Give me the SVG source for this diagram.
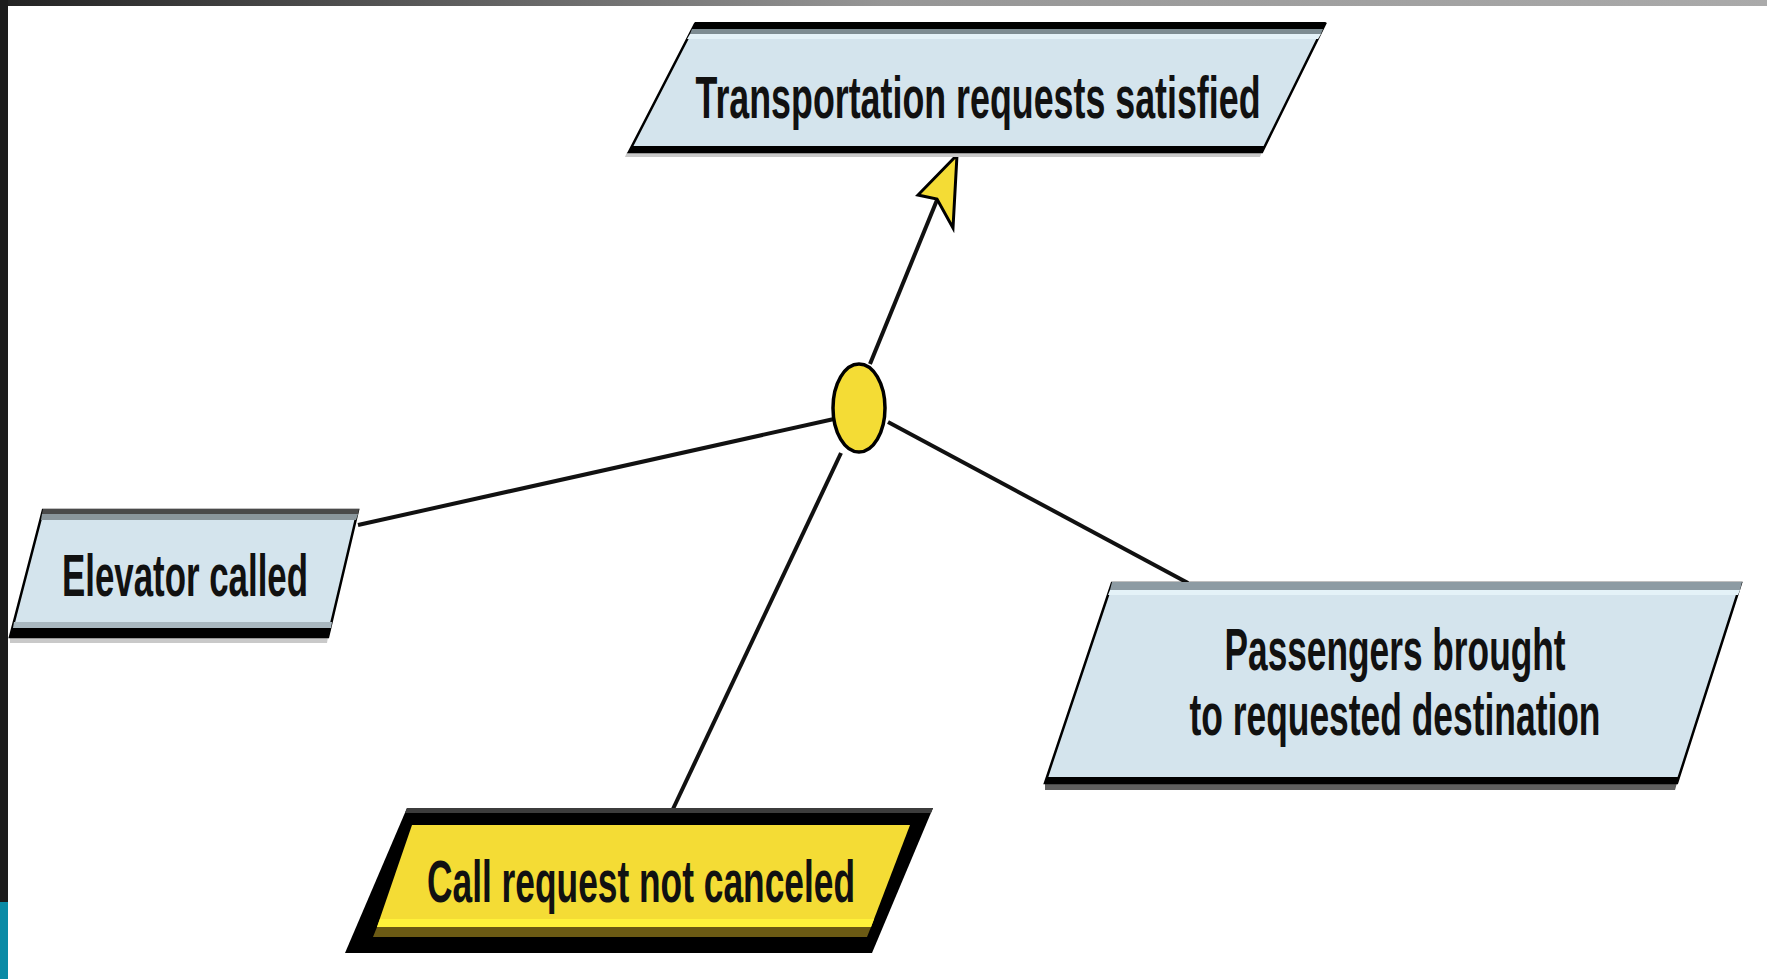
<svg xmlns="http://www.w3.org/2000/svg" width="1767" height="979" viewBox="0 0 1767 979">
<defs>
<linearGradient id="topbar" x1="0" y1="0" x2="1" y2="0">
<stop offset="0" stop-color="#222"/>
<stop offset="0.5" stop-color="#969696"/>
<stop offset="1" stop-color="#aaa"/>
</linearGradient>
<style>
.blue{fill:#d4e4ed;stroke:#000;stroke-width:2.5;stroke-linejoin:miter}
.yel{fill:#f4dc35}
.lbl{font-family:"Liberation Sans",Arial,sans-serif;font-weight:700;font-size:60px;fill:#111;text-anchor:middle}
.conn{stroke:#111;stroke-width:4;fill:none}
</style>
</defs>
<rect width="1767" height="979" fill="#fff"/>
<rect x="0" y="0" width="1767" height="6" fill="url(#topbar)"/>
<rect x="0" y="0" width="8" height="902" fill="#1c1c1c"/>
<rect x="0" y="902" width="8" height="77" fill="#0a8aa5"/>

<g id="connectors">
<line class="conn" x1="358" y1="525" x2="834" y2="419"/>
<line class="conn" x1="888" y1="422" x2="1188" y2="583"/>
<line class="conn" x1="841" y1="453" x2="673" y2="809"/>
<line class="conn" x1="870" y1="364" x2="937" y2="200"/>
<polygon points="957,155 918,195 937,199 953,228" fill="#f4dc35" stroke="#000" stroke-width="3" stroke-linejoin="miter"/>
</g>

<g id="node-transport">
<polygon points="627,152 1262,152 1260,157 625,157" fill="#c9c9c9"/>
<polygon class="blue" points="695,24 1325,24 1262,152 629,152"/>
<polygon points="695,22 1326,22 1323,29 692,29" fill="#000"/>
<polygon points="692,29 1323,29 1321,34 690,34" fill="#7d8c92"/>
<polygon points="690,34 1321,34 1318,39 687,39" fill="#e4f2f8"/>
<polygon points="632,146 1265,146 1262,153 629,153" fill="#000"/>
<text class="lbl" x="978" y="118" textLength="565" lengthAdjust="spacingAndGlyphs">Transportation requests satisfied</text>
</g>

<g id="node-goal-ellipse">
<ellipse cx="859" cy="408" rx="26" ry="44" fill="#f4dc35" stroke="#000" stroke-width="3.5"/>
</g>

<g id="node-elevator">
<polygon points="10,637 328,637 327,643 10,643" fill="#c9c9c9"/>
<polygon class="blue" points="43,510 358,510 328,637 10,637"/>
<polygon points="43,509 359,509 358,514 42,514" fill="#4a4a4a"/>
<polygon points="42,514 358,514 356,520 41,520" fill="#8a969c"/>
<polygon points="14,622 332,622 331,628 13,628" fill="#a9b8c0"/>
<polygon points="13,628 331,628 328,638 10,638" fill="#000"/>
<text class="lbl" x="185" y="596" textLength="246" lengthAdjust="spacingAndGlyphs">Elevator called</text>
</g>

<g id="node-passengers">
<polygon points="1045,783 1677,783 1675,790 1045,790" fill="#5f5f5f"/>
<polygon class="blue" points="1112,583 1741,583 1677,783 1045,783"/>
<polygon points="1112,582 1742,582 1740,590 1110,590" fill="#8d9ba3"/>
<polygon points="1110,590 1740,590 1738,595 1108,595" fill="#e4f2f8"/>
<polygon points="1047,777 1679,777 1677,784 1045,784" fill="#000"/>
<text class="lbl" x="1395" y="670" textLength="341" lengthAdjust="spacingAndGlyphs">Passengers brought</text>
<text class="lbl" x="1395" y="735" textLength="411" lengthAdjust="spacingAndGlyphs">to requested destination</text>
</g>

<g id="node-call">
<polygon points="407,808 933,808 872,953 345,953" fill="#000"/>
<polygon points="407,808 933,808 931,813 405,813" fill="#3c3c3c"/>
<polygon class="yel" points="412,825 910,825 871,927 377,927"/>
<polygon points="380,919 874,919 871,927 377,927" fill="#fff23a"/>
<polygon points="377,927 871,927 867,937 373,937" fill="#6b5a14"/>
<text class="lbl" x="641" y="902" textLength="428" lengthAdjust="spacingAndGlyphs">Call request not canceled</text>
</g>
</svg>
